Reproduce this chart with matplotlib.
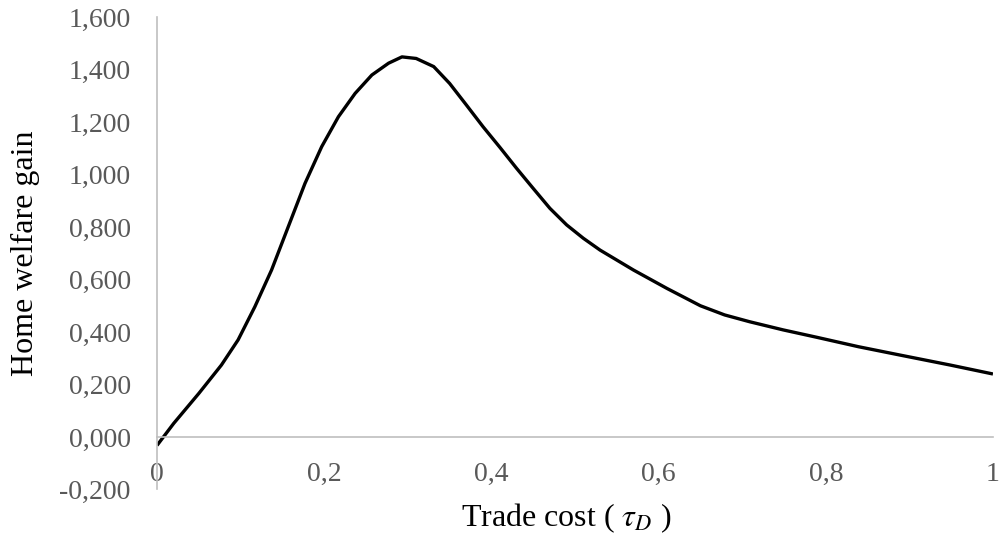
import matplotlib
matplotlib.use("Agg")
import matplotlib.pyplot as plt
from matplotlib.ticker import FuncFormatter, MultipleLocator

plt.rcParams["font.family"] = ["Liberation Serif", "DejaVu Serif"]
plt.rcParams["mathtext.fontset"] = "stix"

# Values
trade_cost = [0.0, 0.02, 0.05, 0.077, 0.097, 0.117, 0.137, 0.157, 0.177, 0.197,
              0.217, 0.237, 0.257, 0.277, 0.293, 0.31, 0.331, 0.35, 0.37, 0.39,
              0.41, 0.43, 0.45, 0.47, 0.49, 0.51, 0.53, 0.57, 0.61, 0.65,
              0.679, 0.709, 0.749, 0.789, 0.839, 0.889, 0.949, 1.0]
welfare_gain = [-0.032, 0.052, 0.166, 0.274, 0.370, 0.496, 0.636, 0.801, 0.966, 1.106,
                1.220, 1.309, 1.379, 1.424, 1.448, 1.442, 1.411, 1.347, 1.265, 1.182,
                1.104, 1.024, 0.947, 0.871, 0.808, 0.757, 0.712, 0.636, 0.566, 0.500,
                0.465, 0.439, 0.408, 0.380, 0.344, 0.312, 0.274, 0.240]

grey_axis = "#bfbfbf"
grey_text = "#595959"

fig = plt.figure(figsize=(10.04, 5.41), dpi=100)
ax = fig.add_axes([0.1564, 0.0952, 0.8326, 0.8734])

ax.plot(trade_cost, welfare_gain, color="black", lw=2.4,
        solid_joinstyle="round", solid_capstyle="butt")

ax.set_xlim(0, 1)
ax.set_ylim(-0.2, 1.6)

# axis styling
for side in ["top", "right"]:
    ax.spines[side].set_visible(False)
ax.spines["bottom"].set_position(("data", 0))
ax.spines["bottom"].set_color(grey_axis)
ax.spines["left"].set_color(grey_axis)
ax.spines["bottom"].set_linewidth(1.2)
ax.spines["left"].set_linewidth(1.2)

ax.xaxis.set_major_locator(MultipleLocator(0.2))
ax.yaxis.set_major_locator(MultipleLocator(0.2))


def fmt_x(v, pos):
    if abs(v) < 1e-9:
        return "0"
    if abs(v - 1) < 1e-9:
        return "1"
    return f"{v:.1f}".replace(".", ",")


def fmt_y(v, pos):
    if abs(v) < 1e-9:
        v = 0.0
    return f"{v:.3f}".replace(".", ",")


ax.xaxis.set_major_formatter(FuncFormatter(fmt_x))
ax.yaxis.set_major_formatter(FuncFormatter(fmt_y))
ax.tick_params(axis="x", length=0, pad=18, labelsize=20, labelcolor=grey_text)
ax.tick_params(axis="y", length=0, pad=19, labelsize=20, labelcolor=grey_text)

ax.set_xlabel(r"Trade cost ( $\tau_D$ )", fontsize=23)
ax.xaxis.set_label_coords(0.49, -0.025)
ax.set_ylabel("Home welfare gain", fontsize=23)
ax.yaxis.set_label_coords(-0.14, 0.5)

fig.savefig("out.png", dpi=100)
